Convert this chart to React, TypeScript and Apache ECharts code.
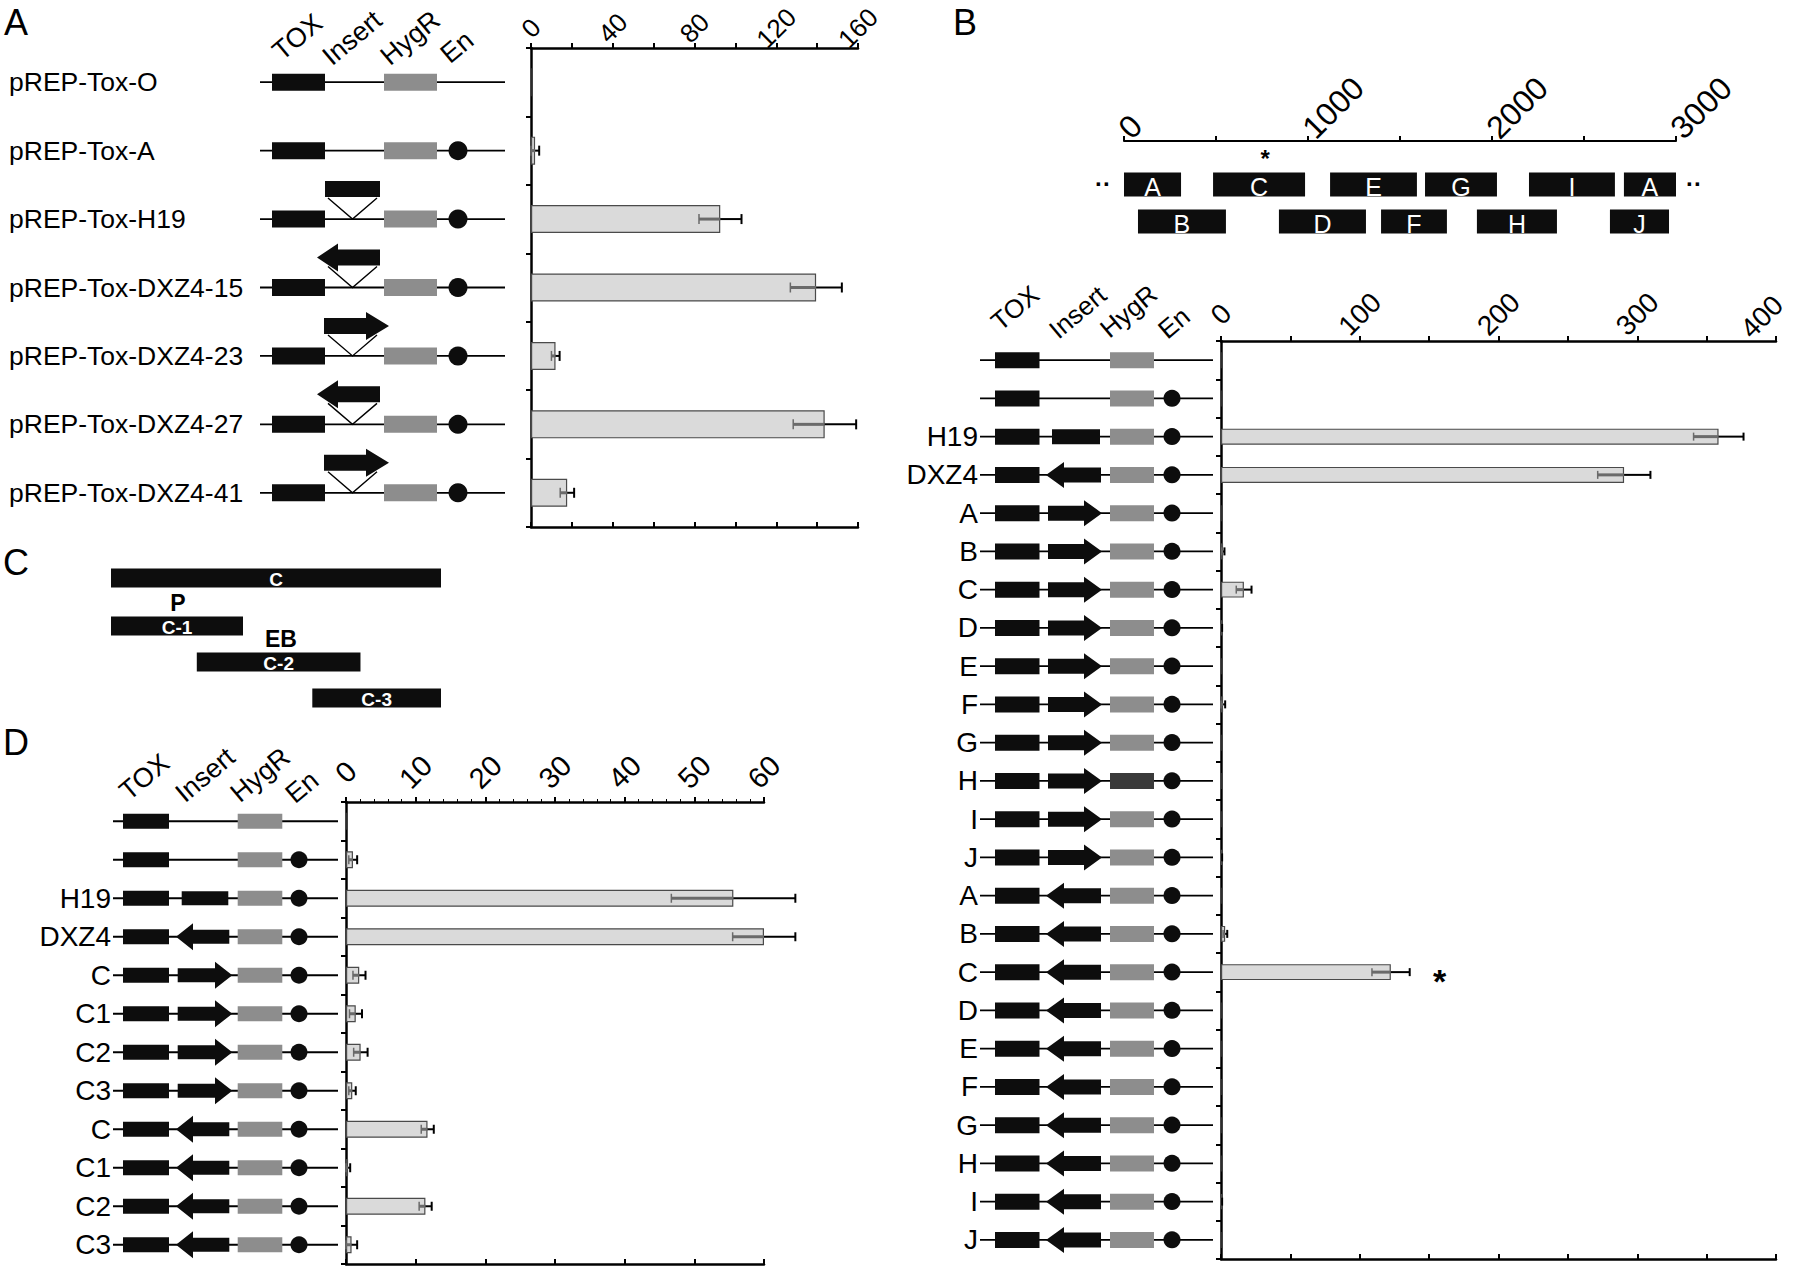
import React, { useEffect, useRef } from "react";
import * as echarts from "echarts";

const FONT = "'Liberation Sans', Arial, Helvetica, sans-serif";

// ---------------- Panel A ----------------
const aLabels = ["pREP-Tox-O", "pREP-Tox-A", "pREP-Tox-H19", "pREP-Tox-DXZ4-15", "pREP-Tox-DXZ4-23", "pREP-Tox-DXZ4-27", "pREP-Tox-DXZ4-41"];
const aInsert = ["none", "none", "box", "rev", "fwd", "rev", "fwd"];
const aEnhancer = [false, true, true, true, true, true, true];
const aValues = [0, 2, 92.6, 139.5, 12, 143.7, 17.7];
const aErrors = [0, 2, 10.4, 12.6, 2, 15.4, 3.4];
const aMax = 160;

// ---------------- Panel B (fragment map) ----------------
const fragNames = ["A", "C", "E", "G", "I", "A", "B", "D", "F", "H", "J"];
const fragStart = [0, 484, 1120, 1636, 2201, 2717, 76, 842, 1397, 1918, 2641];
const fragEnd = [310, 984, 1592, 2027, 2668, 3000, 554, 1315, 1755, 2353, 2962];
const fragLane = [0, 0, 0, 0, 0, 0, 1, 1, 1, 1, 1];
const fragStar = [false, true, false, false, false, false, false, false, false, false, false];
const mapMax = 3000;

// ---------------- Panel B (bars) ----------------
const bLabels = ["", "", "H19", "DXZ4", "A", "B", "C", "D", "E", "F", "G", "H", "I", "J", "A", "B", "C", "D", "E", "F", "G", "H", "I", "J"];
const bInsert = ["none", "none", "box", "rev", "fwd", "fwd", "fwd", "fwd", "fwd", "fwd", "fwd", "fwd", "fwd", "fwd", "rev", "rev", "rev", "rev", "rev", "rev", "rev", "rev", "rev", "rev"];
const bEnhancer = [false, true, true, true, true, true, true, true, true, true, true, true, true, true, true, true, true, true, true, true, true, true, true, true];
const bHygDark = [false, false, false, false, false, false, false, false, false, false, false, true, false, false, false, false, false, false, false, false, false, false, false, false];
const bValues = [0, 0, 358.6, 290.5, 0, 1.5, 16.5, 0.5, 0, 1.5, 0, 0, 0, 0.5, 0, 3, 122.4, 0, 0, 0, 0, 0, 0.5, 0];
const bErrors = [0, 0, 18, 19, 0, 1, 5.5, 0.3, 0, 1.5, 0, 0, 0, 0.3, 0, 1.5, 13.6, 0, 0, 0, 0, 0, 0.3, 0];
const bSignificant = [false, false, false, false, false, false, false, false, false, false, false, false, false, false, false, false, true, false, false, false, false, false, false, false];
const bMax = 400;

// ---------------- Panel C ----------------
const cNames = ["C", "C-1", "C-2", "C-3"];
const cStart = [0, 0, 26, 61];
const cEnd = [100, 40, 75.6, 100];
const cTrack = [0, 4, 7, 10];
const cSiteNames = ["P", "EB"];
const cSitePos = [20.3, 51.5];
const cSiteTrack = [4, 7];

// ---------------- Panel D ----------------
const dLabels = ["", "", "H19", "DXZ4", "C", "C1", "C2", "C3", "C", "C1", "C2", "C3"];
const dInsert = ["none", "none", "box", "rev", "fwd", "fwd", "fwd", "fwd", "rev", "rev", "rev", "rev"];
const dEnhancer = [false, true, true, true, true, true, true, true, true, true, true, true];
const dValues = [0, 1, 55.6, 60, 1.9, 1.4, 2.1, 0.9, 11.7, 0.3, 11.4, 0.8];
const dErrors = [0, 0.6, 8.9, 4.5, 0.9, 0.9, 1, 0.5, 0.9, 0.3, 0.9, 0.8];
const dMax = 60;

const partNames = ["TOX", "Insert", "HygR", "En"];

// ---------------- styles ----------------
const BLACK = "#0d0d0d";
const HYG = "#8d8d8d";
const HYG_DARK = "#3a3a3a";
const BAR_FILL = "#dadada";
const BAR_EDGE = "#4a4a4a";

type Cfg = {
  line: number[]; tox: number[]; hyg: number[]; en: number; enR: number; boxH: number;
  raised: boolean; box: number[]; fwd: number[]; rev: number[]; bodyH: number; headH: number;
  insY: number; v?: number[]; vTop?: number;
};

const cfgA: Cfg = { line: [0, 245], tox: [12, 65], hyg: [124, 177], en: 198, enR: 9.5, boxH: 17, raised: true, box: [65, 120], fwd: [64, 106, 129], rev: [57, 78, 120], bodyH: 16, headH: 28, insY: -30, v: [68, 117, 92.5], vTop: -21 };
const cfgB: Cfg = { line: [0, 233], tox: [15, 59.5], hyg: [130, 174], en: 192, enR: 8.5, boxH: 16, raised: false, box: [72, 120], fwd: [68, 104, 122], rev: [66, 84, 121], bodyH: 15, headH: 26, insY: 0 };
const cfgD: Cfg = { line: [0, 225], tox: [10, 56], hyg: [124.7, 169.3], en: 186, enR: 8.5, boxH: 15, raised: false, box: [68.7, 115.3], fwd: [64.7, 102, 119.3], rev: [63, 80, 116.3], bodyH: 14, headH: 27, insY: 0 };

function diagramRenderer(cfg: Cfg, inserts: string[], enh: boolean[], dark?: boolean[]) {
  return (params: any, api: any) => {
    const i = api.value(1);
    const y = api.coord([0, i])[1];
    const x0 = params.coordSys.x;
    const X = (d: number) => x0 + d;
    const ch: any[] = [];
    ch.push({ type: "line", shape: { x1: X(cfg.line[0]), y1: y, x2: X(cfg.line[1]), y2: y }, style: { stroke: "#000", lineWidth: 1.8 } });
    ch.push({ type: "rect", shape: { x: X(cfg.tox[0]), y: y - cfg.boxH / 2, width: cfg.tox[1] - cfg.tox[0], height: cfg.boxH }, style: { fill: BLACK } });
    ch.push({ type: "rect", shape: { x: X(cfg.hyg[0]), y: y - cfg.boxH / 2, width: cfg.hyg[1] - cfg.hyg[0], height: cfg.boxH }, style: { fill: dark && dark[i] ? HYG_DARK : HYG } });
    if (enh[i]) ch.push({ type: "circle", shape: { cx: X(cfg.en), cy: y, r: cfg.enR }, style: { fill: BLACK } });
    const t = inserts[i];
    const cy = y + cfg.insY;
    const bh = cfg.bodyH / 2;
    const hh = cfg.headH / 2;
    if (t === "box") {
      ch.push({ type: "rect", shape: { x: X(cfg.box[0]), y: cy - bh, width: cfg.box[1] - cfg.box[0], height: cfg.bodyH }, style: { fill: BLACK } });
    } else if (t === "fwd") {
      const [b0, h, tip] = cfg.fwd.map(X);
      ch.push({ type: "polygon", shape: { points: [[b0, cy - bh], [h, cy - bh], [h, cy - hh], [tip, cy], [h, cy + hh], [h, cy + bh], [b0, cy + bh]] }, style: { fill: BLACK } });
    } else if (t === "rev") {
      const [tip, h, be] = cfg.rev.map(X);
      ch.push({ type: "polygon", shape: { points: [[tip, cy], [h, cy - hh], [h, cy - bh], [be, cy - bh], [be, cy + bh], [h, cy + bh], [h, cy + hh]] }, style: { fill: BLACK } });
    }
    if (cfg.raised && t !== "none" && cfg.v) {
      const vt = y + (cfg.vTop || 0);
      ch.push({ type: "polyline", shape: { points: [[X(cfg.v[0]), vt], [X(cfg.v[2]), y], [X(cfg.v[1]), vt]] }, style: { stroke: "#000", lineWidth: 1.4, fill: null } });
    }
    return { type: "group", children: ch };
  };
}

function errorRenderer(capH: number, sig?: boolean[]) {
  return (params: any, api: any) => {
    const v = api.value(0);
    const i = api.value(1);
    const e = api.value(2);
    const ch: any[] = [];
    const mid = api.coord([v, i]);
    const hi = api.coord([v + e, i]);
    if (e > 0) {
      const lo = api.coord([Math.max(0, v - e), i]);
      const y = mid[1];
      ch.push({ type: "line", shape: { x1: lo[0], y1: y, x2: mid[0], y2: y }, style: { stroke: "#6a6a6a", lineWidth: 3 } });
      ch.push({ type: "line", shape: { x1: lo[0], y1: y - capH / 2, x2: lo[0], y2: y + capH / 2 }, style: { stroke: "#6a6a6a", lineWidth: 1.5 } });
      ch.push({ type: "line", shape: { x1: mid[0], y1: y, x2: hi[0], y2: y }, style: { stroke: "#000", lineWidth: 2 } });
      ch.push({ type: "line", shape: { x1: hi[0], y1: y - capH / 2, x2: hi[0], y2: y + capH / 2 }, style: { stroke: "#000", lineWidth: 2 } });
    }
    if (sig && sig[i]) {
      ch.push({ type: "text", x: hi[0] + 30, y: mid[1] + 9, style: { text: "*", fontSize: 34, fontWeight: "bold", fontFamily: FONT, fill: "#000", align: "center", verticalAlign: "middle" } });
    }
    return { type: "group", children: ch };
  };
}

const axisLineStyle = { color: "#000", width: 2.5 };

function topAxis(gridIndex: number, max: number, interval: number, every: number, fontSize: number, margin: number, align: string, extra: any = {}, shiftLast = false) {
  return {
    type: "value", gridIndex, position: "top", min: 0, max, interval,
    axisLine: { show: true, lineStyle: axisLineStyle },
    axisTick: { show: true, length: 5, lineStyle: { color: "#000", width: 2 } },
    splitLine: { show: false },
    axisLabel: {
      show: true, rotate: -45, margin, align, verticalAlign: "middle", fontSize, color: "#000", fontFamily: FONT,
      formatter: (val: number) => {
        if (Math.round(val) % every !== 0) return "";
        if (shiftLast && val === max) return "{s|" + val + "}";
        return String(val);
      },
      rich: { s: { fontSize, fontFamily: FONT, color: "#000", padding: [0, 24, 16, 0] } },
    },
    ...extra,
  };
}
function bottomAxis(gridIndex: number, max: number, interval: number) {
  return {
    type: "value", gridIndex, position: "bottom", min: 0, max, interval,
    axisLine: { show: true, lineStyle: axisLineStyle },
    axisTick: { show: true, inside: true, length: 5, lineStyle: { color: "#000", width: 2 } },
    splitLine: { show: false },
    axisLabel: { show: false },
  };
}
function hiddenValue(gridIndex: number, max: number, inverse = false) {
  return { type: "value", gridIndex, min: 0, max, inverse, show: false, splitLine: { show: false } };
}
function barCat(gridIndex: number, n: number) {
  return {
    type: "category", gridIndex, inverse: true, data: Array.from({ length: n }, (_, k) => String(k)),
    axisLine: { show: true, lineStyle: axisLineStyle },
    axisTick: { show: true, inside: false, length: 5, lineStyle: { color: "#000", width: 2 } },
    axisLabel: { show: false },
    splitLine: { show: false },
  };
}
function labelCat(gridIndex: number, labels: string[], fontSize: number, align: string, margin: number) {
  return {
    type: "category", gridIndex, inverse: true, data: labels.map((_, k) => String(k)),
    axisLine: { show: false }, axisTick: { show: false }, splitLine: { show: false },
    axisLabel: { show: true, interval: 0, fontSize, color: "#000", fontFamily: FONT, align, margin, formatter: (v: string) => labels[+v] },
  };
}

function headerTexts(pos: number[][], fontSize: number) {
  return partNames.map((t, k) => ({
    type: "text", x: pos[k][0], y: pos[k][1], rotation: (40 * Math.PI) / 180,
    style: { text: t, fontSize, fontFamily: FONT, fill: "#000", align: "left", verticalAlign: "bottom" },
  }));
}
function letter(t: string, x: number, y: number) {
  return { type: "text", x, y, style: { text: t, fontSize: 36, fontFamily: FONT, fill: "#000", align: "left", verticalAlign: "top" } };
}

function grid(left: number, top: number, width: number, height: number) {
  return { left, top, width, height, containLabel: false, outerBoundsMode: "none" };
}

export default function App() {
  const ref = useRef<HTMLDivElement>(null);
  useEffect(() => {
    if (!ref.current) return;
    const chart = echarts.init(ref.current, undefined, { renderer: "svg" });
    const option: any = {
      animation: false,
      backgroundColor: "#ffffff",
      grid: [
        grid(531, 48, 327, 479), // 0 A bars
        grid(260, 48, 245, 479), // 1 A diagram
        grid(1221, 341, 555, 918), // 2 B bars
        grid(980, 341, 233, 918), // 3 B diagram
        grid(346, 802, 418, 462), // 4 D bars
        grid(113, 802, 225, 462), // 5 D diagram
        grid(1124, 166, 552, 74), // 6 B map
        grid(111, 578, 330, 120), // 7 C map
      ],
      xAxis: [
        topAxis(0, aMax, 20, 40, 26, 20, "center"),
        bottomAxis(0, aMax, 20),
        hiddenValue(1, 1),
        topAxis(2, bMax, 50, 100, 28, 27, "center", {}, true),
        bottomAxis(2, bMax, 50),
        hiddenValue(3, 1),
        topAxis(4, dMax, 10, 10, 29, 30, "center", { minorTick: { show: true, splitNumber: 5, length: 3, lineStyle: { color: "#000", width: 1 } } }),
        bottomAxis(4, dMax, 10),
        hiddenValue(5, 1),
        topAxis(6, mapMax, 500, 1000, 32, 8, "left", { offset: 25, axisLine: { show: true, lineStyle: { color: "#000", width: 2 } } }),
        hiddenValue(7, 100),
      ],
      yAxis: [
        barCat(0, aLabels.length),
        labelCat(1, aLabels, 26.5, "left", 251),
        barCat(2, bLabels.length),
        labelCat(3, bLabels, 28, "right", 2),
        barCat(4, dLabels.length),
        labelCat(5, dLabels, 28, "right", 2),
        { type: "category", gridIndex: 6, inverse: true, data: ["0", "1"], show: false },
        hiddenValue(7, 10, true),
      ],
      series: [
        // Panel A
        { type: "bar", xAxisIndex: 0, yAxisIndex: 0, data: aValues, barWidth: 28, silent: true, itemStyle: { color: BAR_FILL, borderColor: BAR_EDGE, borderWidth: 1.2 } },
        { type: "custom", xAxisIndex: 0, yAxisIndex: 0, clip: false, silent: true, z: 5, data: aValues.map((v, i) => [v, i, aErrors[i]]), renderItem: errorRenderer(10) },
        { type: "custom", xAxisIndex: 2, yAxisIndex: 1, clip: false, silent: true, data: aLabels.map((_, i) => [0, i]), renderItem: diagramRenderer(cfgA, aInsert, aEnhancer) },
        // Panel B bars
        { type: "bar", xAxisIndex: 3, yAxisIndex: 2, data: bValues, barWidth: 16, silent: true, itemStyle: { color: BAR_FILL, borderColor: BAR_EDGE, borderWidth: 1.2 } },
        { type: "custom", xAxisIndex: 3, yAxisIndex: 2, clip: false, silent: true, z: 5, data: bValues.map((v, i) => [v, i, bErrors[i]]), renderItem: errorRenderer(8, bSignificant) },
        { type: "custom", xAxisIndex: 5, yAxisIndex: 3, clip: false, silent: true, data: bLabels.map((_, i) => [0, i]), renderItem: diagramRenderer(cfgB, bInsert, bEnhancer, bHygDark) },
        // Panel D bars
        { type: "bar", xAxisIndex: 6, yAxisIndex: 4, data: dValues, barWidth: 17, silent: true, itemStyle: { color: BAR_FILL, borderColor: BAR_EDGE, borderWidth: 1.2 } },
        { type: "custom", xAxisIndex: 6, yAxisIndex: 4, clip: false, silent: true, z: 5, data: dValues.map((v, i) => [v, i, dErrors[i]]), renderItem: errorRenderer(9) },
        { type: "custom", xAxisIndex: 8, yAxisIndex: 5, clip: false, silent: true, data: dLabels.map((_, i) => [0, i]), renderItem: diagramRenderer(cfgD, dInsert, dEnhancer) },
        // Panel B fragment map
        {
          type: "custom", xAxisIndex: 9, yAxisIndex: 6, clip: false, silent: true,
          encode: { x: [0, 1], y: 2 },
          data: fragStart.map((s, i) => [s, fragEnd[i], fragLane[i], i]),
          renderItem: (params: any, api: any) => {
            const k = api.value(3);
            const p0 = api.coord([api.value(0), api.value(2)]);
            const p1 = api.coord([api.value(1), api.value(2)]);
            const h = 24;
            const ch: any[] = [
              { type: "rect", shape: { x: p0[0], y: p0[1] - h / 2, width: p1[0] - p0[0], height: h }, style: { fill: BLACK } },
              { type: "text", x: (p0[0] + p1[0]) / 2, y: p0[1] + 2, style: { text: fragNames[k], fontSize: 25, lineHeight: 22, fontFamily: FONT, fill: "#fff", align: "center", verticalAlign: "middle" } },
            ];
            if (fragStar[k]) ch.push({ type: "text", x: (p0[0] + p1[0]) / 2 + 6, y: p0[1] - h / 2 - 3, style: { text: "*", fontSize: 24, lineHeight: 22, fontWeight: "bold", fontFamily: FONT, fill: "#000", align: "center", verticalAlign: "bottom" } });
            return { type: "group", children: ch };
          },
        },
        // Panel C fragments
        {
          type: "custom", xAxisIndex: 10, yAxisIndex: 7, clip: false, silent: true,
          encode: { x: [0, 1], y: 2 },
          data: cStart.map((s, i) => [s, cEnd[i], cTrack[i], i]),
          renderItem: (params: any, api: any) => {
            const k = api.value(3);
            const p0 = api.coord([api.value(0), api.value(2)]);
            const p1 = api.coord([api.value(1), api.value(2)]);
            const h = 19;
            return {
              type: "group", children: [
                { type: "rect", shape: { x: p0[0], y: p0[1] - h / 2, width: p1[0] - p0[0], height: h }, style: { fill: BLACK } },
                { type: "text", x: (p0[0] + p1[0]) / 2, y: p0[1] + 1, style: { text: cNames[k], fontSize: 19, lineHeight: 16, fontWeight: "bold", fontFamily: FONT, fill: "#fff", align: "center", verticalAlign: "middle" } },
              ],
            };
          },
        },
        {
          type: "custom", xAxisIndex: 10, yAxisIndex: 7, clip: false, silent: true,
          data: cSitePos.map((p, i) => [p, cSiteTrack[i], i]),
          renderItem: (params: any, api: any) => {
            const k = api.value(2);
            const p = api.coord([api.value(0), api.value(1)]);
            return { type: "text", x: p[0], y: p[1] - 13, style: { text: cSiteNames[k], fontSize: 23, lineHeight: 20, fontWeight: "bold", fontFamily: FONT, fill: "#000", align: "center", verticalAlign: "bottom" } };
          },
        },
      ],
      graphic: {
        elements: [
          letter("A", 4, 4),
          letter("B", 953, 4),
          letter("C", 3, 544),
          letter("D", 3, 724),
          ...headerTexts([[285, 65], [335, 70], [393, 70], [453, 68]], 27),
          ...headerTexts([[1003, 335], [1061, 343], [1112, 342], [1170, 343]], 26),
          ...headerTexts([[132, 805], [188, 807], [243, 807], [298, 808]], 27),
          { type: "text", x: 1103, y: 183, style: { text: "··", fontSize: 24, lineHeight: 14, fontWeight: "bold", fontFamily: FONT, fill: "#000", align: "center", verticalAlign: "middle" } },
          { type: "text", x: 1694, y: 183, style: { text: "··", fontSize: 24, lineHeight: 14, fontWeight: "bold", fontFamily: FONT, fill: "#000", align: "center", verticalAlign: "middle" } },
        ],
      },
    };
    chart.setOption(option);
    return () => chart.dispose();
  }, []);
  return <div ref={ref} style={{ position: "fixed", left: 0, top: 0, width: 1800, height: 1268, background: "#fff" }} />;
}
